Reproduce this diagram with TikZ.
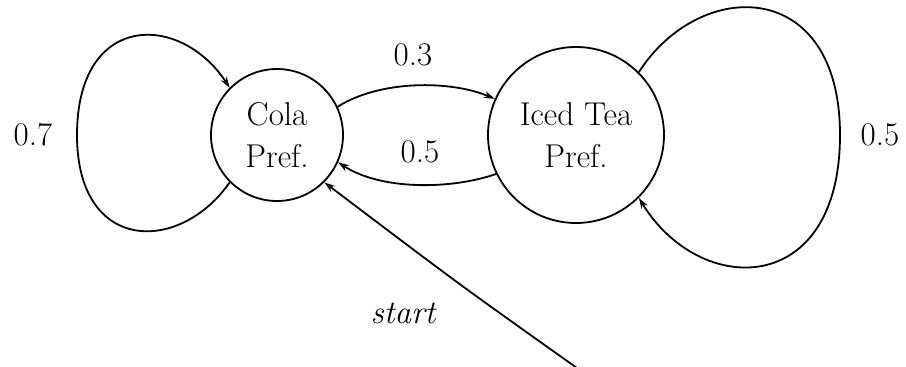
\documentclass[tikz,border=0pt]{standalone}
\usetikzlibrary{arrows.meta}
\begin{document}
\begin{tikzpicture}[x=1pt,y=-1pt,
  every node/.style={font=\fontsize{33}{42}\selectfont},
  state/.style={draw,circle,line width=1.8pt,inner sep=0pt,align=center},
  edge/.style={line width=1.8pt,-{Stealth[length=11pt,width=7pt]}},
  lbl/.style={inner sep=0pt}]
\useasboundingbox (0,0) rectangle (906,367);
\node[state,minimum size=132pt] (cola) at (277,135) {Cola\\Pref.};
\node[state,minimum size=176pt] (tea) at (576,135) {Iced Tea\\Pref.};
\coordinate (s) at (577,368);
% self loops
\draw[edge] (cola.225) .. controls (180,254) and (77,254) .. (77,135)
  .. controls (77,12) and (180,12) .. (cola.135);
\draw[edge] (tea.45) .. controls (700,-23) and (840,-23) .. (840,135)
  .. controls (840,298) and (700,298) .. (tea.-45);
% between states
\draw[edge] (cola.25) .. controls (380,80) and (450,80) .. (tea.156);
\draw[edge] (tea.206) .. controls (450,190) and (380,190) .. (cola.-24);
% start
\draw[edge] (s) .. controls (460,285) .. (cola.-45);
% labels
\node[lbl] (l07) at (33,135) {0.7};
\node[lbl] (l05r) at (880,135) {0.5};
\node[lbl] (l03) at (413,55) {0.3};
\node[lbl] (l05m) at (420,152) {0.5};
\node[lbl] (lstart) at (403,313) {\itshape start};
\end{tikzpicture}
\end{document}
